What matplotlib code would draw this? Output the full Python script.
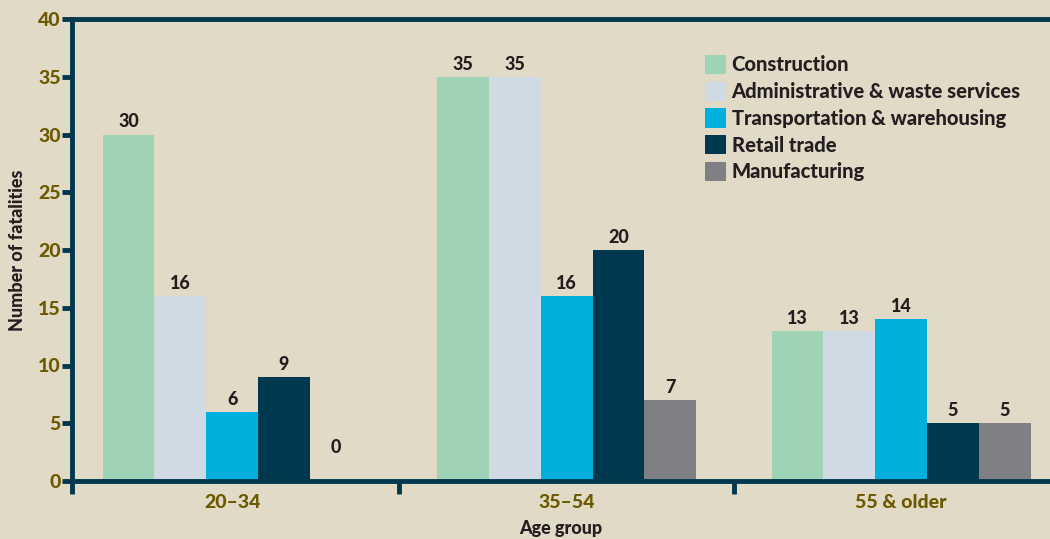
import numpy as np
import matplotlib
matplotlib.use("Agg")
import matplotlib.pyplot as plt

# Data
age_groups = ["20\u201334", "35\u201354", "55 & older"]
industries = ["Construction", "Administrative & waste services",
              "Transportation & warehousing", "Retail trade", "Manufacturing"]
construction = [30, 35, 13]
admin_waste = [16, 35, 13]
transport = [6, 16, 14]
retail = [9, 20, 5]
manufacturing = [0, 7, 5]

series = [construction, admin_waste, transport, retail, manufacturing]
colors = ["#9ED4B5", "#CFDAE4", "#00B0DC", "#00384F", "#7F8083"]

BG = "#E1DAC6"
NAVY = "#003850"
OLIVE = "#6B5A00"
INK = "#231F20"
W = "black"

plt.rcParams['font.family'] = ['Lato', 'DejaVu Sans']

fig = plt.figure(figsize=(10.5, 5.39), dpi=100, facecolor=BG)
ax = fig.add_axes([72 / 1050, 58 / 539, 978 / 1050, 462 / 539])
ax.set_facecolor(BG)

centers = np.arange(len(age_groups)) + 0.5
width = 0.155
for i, (vals, col, name) in enumerate(zip(series, colors, industries)):
    xs = centers + (i - 2) * width
    ax.bar(xs, vals, width, color=col, label=name, zorder=2)
    for x, v in zip(xs, vals):
        off = 18 if v == 0 else 3
        ax.annotate(str(v), (x, v), xytext=(0, off), textcoords="offset points",
                    ha="center", va="bottom", fontsize=13, fontweight=W,
                    color=INK)

ax.set_xlim(0.021, 2.945)
ax.set_ylim(0, 40)

# spines
for side in ["left", "bottom", "top"]:
    ax.spines[side].set_color(NAVY)
    ax.spines[side].set_linewidth(3.5)
ax.spines["right"].set_visible(False)

ax.set_yticks(range(0, 41, 5))
ax.tick_params(axis="y", direction="out", length=7, width=3.5, color=NAVY,
               labelsize=14, labelcolor=OLIVE, pad=1)
for lbl in ax.get_yticklabels():
    lbl.set_fontweight(W)

ax.set_xticks([0.021, 1, 2])
ax.set_xticklabels([])
ax.tick_params(axis="x", which="major", direction="out", length=9, width=3.5,
               color=NAVY)
ax.set_xticks(centers, minor=True)
ax.set_xticklabels(age_groups, minor=True)
ax.tick_params(axis="x", which="minor", length=0, labelsize=14,
               labelcolor=OLIVE, pad=9)
for lbl in ax.get_xticklabels(minor=True):
    lbl.set_fontweight(W)

ax.set_ylabel("Number of fatalities", fontsize=13, fontweight=W,
              color=INK, labelpad=9)
ax.set_xlabel("Age group", fontsize=13, fontweight=W, color=INK,
              labelpad=7)

leg = ax.legend(loc="upper left", bbox_to_anchor=(0.6395, 0.94), frameon=False,
                fontsize=14.5, handlelength=1.0, handleheight=1.1,
                handletextpad=0.3, labelspacing=0.36, borderaxespad=0)
for t in leg.get_texts():
    t.set_fontweight(W)
    t.set_color(INK)

fig.savefig("out.png", dpi=100, facecolor=BG)
